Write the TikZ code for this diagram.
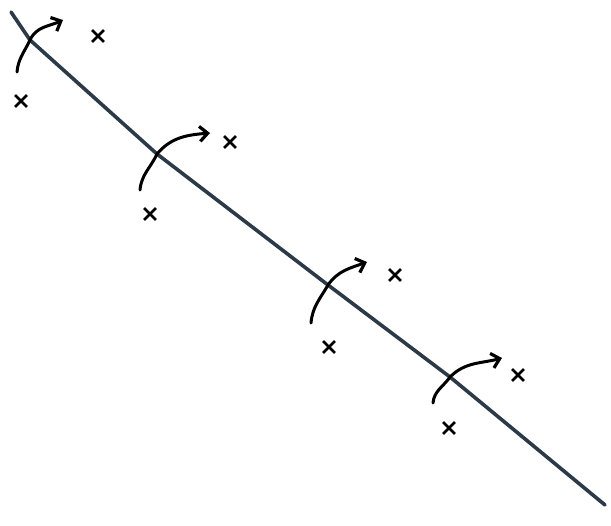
\documentclass[tikz,border=0pt]{standalone}
\usetikzlibrary{arrows.meta,shapes.misc}

\definecolor{slate}{RGB}{44,58,72}

\begin{document}
\begin{tikzpicture}[
    x=1pt,y=1pt,
    >={Straight Barb[length=8pt,width=15pt,line width=3.2pt]},
    boundary/.style={line width=3.6pt,color=slate,line cap=round,line join=round},
    flow/.style={->,line width=3pt,black,line cap=round},
    xmark/.style={cross out,draw=black,line width=2.8pt,minimum size=9pt,inner sep=0pt},
]
\useasboundingbox (0,0) rectangle (611,-526);

% === crossing points on the line ===
\coordinate (l0) at (11,-12);
\coordinate (c1) at (30,-40);
\coordinate (c2) at (157,-154);
\coordinate (c3) at (328,-285);
\coordinate (c4) at (450,-377);
\coordinate (l5) at (605,-505);

\draw[boundary] (l0) -- (c1) -- (c2) -- (c3) -- (c4) -- (l5);

% === arrows across the line ===
\coordinate (s1) at (17,-72);   \coordinate (e1) at (63,-20);
\coordinate (s2) at (140,-190); \coordinate (e2) at (210,-133);
\coordinate (s3) at (311,-323); \coordinate (e3) at (367,-262);
\coordinate (s4) at (433,-403); \coordinate (e4) at (502,-358);

\draw[flow] (s1) to[out=85,in=-115] (c1) to[out=65,in=205] (e1);
\draw[flow] (s2) to[out=85,in=-115] (c2) to[out=50,in=185] (e2);
\draw[flow] (s3) to[out=85,in=-120] (c3) to[out=55,in=200] (e3);
\draw[flow] (s4) to[out=85,in=-125] (c4) to[out=45,in=195] (e4);

% === marks before and after ===
\node[xmark] (b1) at (21,-101) {};
\node[xmark] (a1) at (98,-36) {};
\node[xmark] (b2) at (150,-214) {};
\node[xmark] (a2) at (230,-142) {};
\node[xmark] (b3) at (329,-347) {};
\node[xmark] (a3) at (395,-275) {};
\node[xmark] (b4) at (449,-428) {};
\node[xmark] (a4) at (518,-375) {};
\end{tikzpicture}
\end{document}
